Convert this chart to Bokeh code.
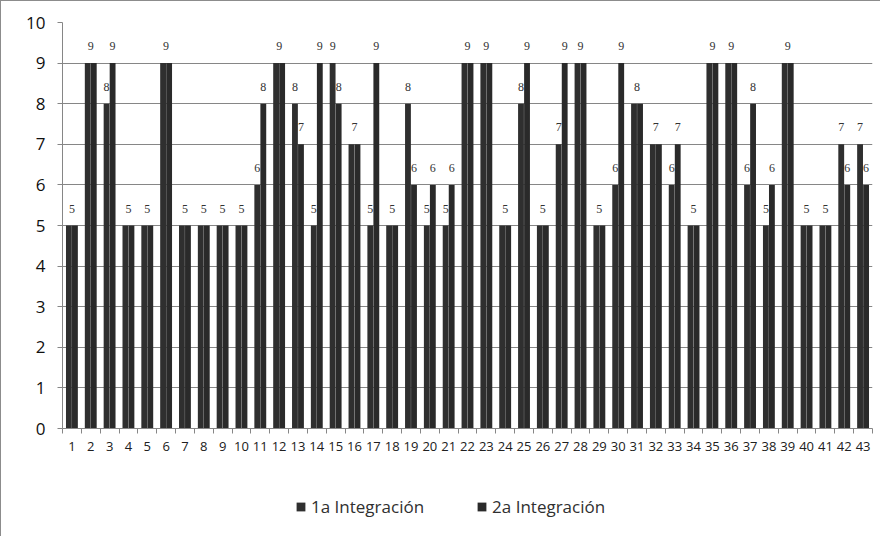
from bokeh.plotting import figure
from bokeh.models import (ColumnDataSource, Range1d, FixedTicker, Legend, LegendItem,
                          LabelSet)
from bokeh.layouts import column
from bokeh.embed import file_html
from bokeh.resources import INLINE

categories = [str(i) for i in range(1, 44)]
serie1 = [5, 9, 8, 5, 5, 9, 5, 5, 5, 5, 6, 9, 8, 5, 9, 7, 5, 5, 8, 5, 5,
          9, 9, 5, 8, 5, 7, 9, 5, 6, 8, 7, 6, 5, 9, 9, 6, 5, 9, 5, 5, 7, 7]
serie2 = [5, 9, 9, 5, 5, 9, 5, 5, 5, 5, 8, 9, 7, 9, 8, 7, 9, 5, 6, 6, 6,
          9, 9, 5, 9, 5, 9, 9, 5, 9, 8, 7, 7, 5, 9, 9, 8, 6, 9, 5, 5, 6, 6]
series_names = ["1a Integración", "2a Integración"]
y_ticks = list(range(0, 11))

FONT = "Open Sans"
GRID = "#868686"
BORDER = "#8c8c8c"
BAR1 = "#2f2f2f"
BAR2 = "#2a2a2a"
OFF = 0.16
BW = 0.31

xs = list(range(1, len(categories) + 1))
src1 = ColumnDataSource(dict(x=[x - OFF for x in xs], top=serie1))
src2 = ColumnDataSource(dict(x=[x + OFF for x in xs], top=serie2))

# labels: one centered label when values are equal, else one per bar
lx, ly, lt = [], [], []
for x, a, b in zip(xs, serie1, serie2):
    if a == b:
        lx.append(x); ly.append(a); lt.append(str(a))
    else:
        lx += [x - OFF, x + OFF]; ly += [a, b]; lt += [str(a), str(b)]
lsrc = ColumnDataSource(dict(x=lx, y=ly, t=lt))

p = figure(width=880, height=470, output_backend="svg", toolbar_location=None,
           x_range=Range1d(0.5, len(categories) + 0.5), y_range=Range1d(0, 10),
           min_border_left=61, min_border_right=9, min_border_top=21, min_border_bottom=43)
p.outline_line_color = None
p.background_fill_color = "white"
p.border_fill_color = "white"
p.styles = {"border-left": f"1px solid {BORDER}", "border-top": f"1px solid {BORDER}"}

p.xgrid.grid_line_color = None
p.ygrid.grid_line_color = GRID
p.ygrid.grid_line_width = 1
p.ygrid.ticker = FixedTicker(ticks=y_ticks)

r1 = p.vbar(x="x", top="top", width=BW, source=src1, fill_color=BAR1, line_color=None)
r2 = p.vbar(x="x", top="top", width=BW, source=src2, fill_color=BAR2, line_color=None)

labels = LabelSet(x="x", y="y", text="t", source=lsrc, text_align="center",
                  text_baseline="bottom", y_offset=13, text_font=FONT,
                  text_font_size="12px", text_color="#333333")
p.add_layout(labels)

# axes
p.xaxis.ticker = FixedTicker(ticks=xs, minor_ticks=[x + 0.5 for x in range(0, len(xs) + 1)])
p.xaxis.major_label_overrides = {x: c for x, c in zip(xs, categories)}
p.xaxis.major_tick_line_color = None
p.xaxis.major_tick_in = 0
p.xaxis.major_tick_out = 5
p.xaxis.minor_tick_line_color = GRID
p.xaxis.minor_tick_in = 0
p.xaxis.minor_tick_out = 5
p.xaxis.axis_line_color = GRID
p.xaxis.major_label_text_font = FONT
p.xaxis.major_label_text_font_size = "13px"
p.xaxis.major_label_text_color = "#202020"
p.xaxis.major_label_standoff = 8

p.yaxis.ticker = FixedTicker(ticks=y_ticks)
p.yaxis.minor_tick_line_color = None
p.yaxis.major_tick_in = 0
p.yaxis.major_tick_out = 5
p.yaxis.major_tick_line_color = GRID
p.yaxis.axis_line_color = GRID
p.yaxis.major_label_text_font = FONT
p.yaxis.major_label_text_font_size = "17px"
p.yaxis.major_label_text_color = "#101010"
p.yaxis.major_label_standoff = 12

# legend strip below the chart (zero-height key bars, only their legend swatches show)
p2 = figure(width=880, height=66, output_backend="svg", toolbar_location=None,
            x_range=Range1d(0, 1), y_range=Range1d(0, 1),
            x_axis_type=None, y_axis_type=None,
            min_border=0, min_border_left=0, min_border_right=0,
            min_border_top=0, min_border_bottom=0)
p2.outline_line_color = None
p2.grid.grid_line_color = None
p2.styles = {"border-left": f"1px solid {BORDER}"}
key_src = ColumnDataSource(dict(x=[-1.0], top=[0.0]))
k1 = p2.vbar(x="x", top="top", width=0.01, source=key_src, fill_color=BAR1, line_color=None)
k2 = p2.vbar(x="x", top="top", width=0.01, source=key_src, fill_color=BAR2, line_color=None)

legend = Legend(items=[LegendItem(label=series_names[0], renderers=[k1]),
                       LegendItem(label=series_names[1], renderers=[k2])],
                orientation="horizontal", location=(233, 18),
                spacing=52, glyph_width=11, glyph_height=11, label_standoff=5,
                label_text_font=FONT, label_text_font_size="17px",
                label_text_color="#303030", border_line_color=None,
                background_fill_alpha=0, padding=0, margin=0)
p2.add_layout(legend, "center")

layout = column(p, p2, spacing=0)
open("out.html", "w").write(file_html(layout, INLINE))
